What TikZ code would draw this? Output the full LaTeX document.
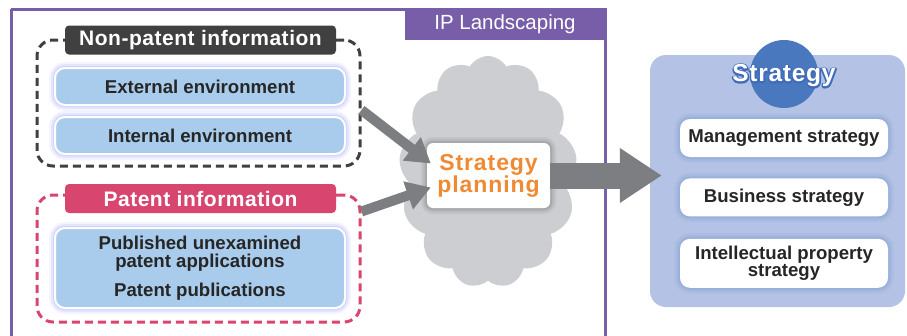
\documentclass[tikz,border=0pt]{standalone}
\usepackage{fontspec}
\setmainfont{Liberation Sans}
\usetikzlibrary{positioning}
\usetikzlibrary{arrows.meta}
\usetikzlibrary{shapes.symbols}
\definecolor{ipurple}{RGB}{120,94,168}
\definecolor{darklabel}{RGB}{64,64,64}
\definecolor{patpink}{RGB}{216,69,111}
\definecolor{boxblue}{RGB}{169,204,236}
\definecolor{cloudgray}{RGB}{205,206,209}
\definecolor{arrowgray}{RGB}{125,126,130}
\definecolor{planorange}{RGB}{240,138,50}
\definecolor{panelblue}{RGB}{180,195,229}
\definecolor{circblue}{RGB}{74,120,191}
% white letters over a blue stroked copy
\newcommand{\outlined}[1]{\rlap{\special{pdf:literal direct 1 Tr 3 w 1 j 0.25 0.42 0.72 RG}#1\special{pdf:literal direct 0 Tr}}#1}

\begin{document}
\begin{tikzpicture}[
            x = 1pt, y = -1pt, % pixel grid, y down
            font = \bfseries\fontsize{18.6}{18.6}\selectfont,
            text = black!85,
            glow/.style = {
                preaction = {draw = #1, line width = 12pt, opacity = 0.06},
                preaction = {draw = #1, line width = 8pt, opacity = 0.08},
                preaction = {draw = #1, line width = 4pt, opacity = 0.12}
            }
        ]

        \tikzstyle{infobox}=[
            fill = boxblue,
            draw = white,
            line width = 2pt,
            rounded corners = 10pt,
            minimum width = 290pt,
            minimum height = 37pt,
            align = center,
            glow = blue!70!boxblue
        ]
        \tikzstyle{stratbox}=[
            fill = white,
            rounded corners = 10pt,
            minimum width = 208pt,
            minimum height = 38pt,
            align = center,
            glow = circblue
        ]
        \tikzstyle{group}=[
            line width = 3pt,
            dash pattern = on 8pt off 5pt,
            rounded corners = 16pt,
            minimum width = 323pt,
            minimum height = 126pt
        ]
        \tikzstyle{grouplabel}=[
            text = white,
            rounded corners = 4pt,
            minimum width = 271pt,
            minimum height = 29pt,
            inner sep = 0pt,
            font = \bfseries\fontsize{21}{21}\selectfont\addfontfeatures{LetterSpace=2.5}
        ]
        \tikzstyle{fatarrow}=[
            -{Triangle[length=24pt, width=28pt]},
            draw = arrowgray,
            line width = 10pt
        ]

        \useasboundingbox (0,0) rectangle (907,335);
        \clip (0,0) rectangle (907,335);

        % IP landscaping frame
        \draw[ipurple, line width = 3pt] (11,9) -- (605,9) -- (605,345) (11,9) -- (11,345);
        \node[fill = ipurple, text = white, minimum width = 201pt, minimum height = 32pt,
              font = \fontsize{20.5}{20.5}\selectfont] (IPL) at (505,24) {IP Landscaping};

        % non-patent information
        \node[group, draw = darklabel] (NP) at (198.5,103) {};
        \node[grouplabel, fill = darklabel] (NPL) at (200.5,40) {Non-patent information};
        \node[infobox] (EXT) at (200,86.5) {External environment};
        \node[infobox] (INT) [below = 10pt of EXT] {Internal environment};

        % patent information
        \node[group, draw = patpink, minimum height = 127pt] (PT) at (198.5,258.5) {};
        \node[grouplabel, fill = patpink] (PTL) at (200.5,198.5) {Patent information};
        \node[infobox, minimum height = 80pt] (PUB) at (200,268)
            {Published unexamined\\patent applications\\[10pt]Patent publications};

        % strategy planning
        \node[cloud, cloud puffs = 13, cloud puff arc = 120, aspect = 0.75,
              minimum width = 178pt, minimum height = 232pt, fill = cloudgray] (CL) at (488,172) {};
        \node[fill = white, rounded corners = 6pt, minimum width = 123pt, minimum height = 65pt,
              align = center, text = planorange,
              font = \bfseries\fontsize{23}{22}\selectfont\addfontfeatures{LetterSpace=4},
              glow = black!80]
              (PLAN) at (488.5,175.5) {Strategy\\planning};

        % strategy
        \node[fill = panelblue, rounded corners = 16pt, minimum width = 255pt,
              minimum height = 252pt] (PANEL) at (777.5,181) {};
        \node[circle, fill = circblue, minimum size = 68pt] (CIRC) at (784,74) {};
        \node[text = white, font = \bfseries\fontsize{24.5}{24.5}\selectfont\addfontfeatures{LetterSpace=3}]
              (STR) at (784,76) {\outlined{Strategy}};
        \node[stratbox] (MGMT) at (784,138) {Management strategy};
        \node[stratbox] (BIZ) [below = 21pt of MGMT] {Business strategy};
        \node[stratbox, minimum height = 49pt, font = \bfseries\fontsize{18.6}{17}\selectfont]
              (IPS) [below = 22pt of BIZ] {Intellectual property\\strategy};

        % flows
        \draw[fatarrow] ([yshift=-7pt]NP.east) -- ([xshift=4pt, yshift=12pt]PLAN.west);
        \draw[fatarrow] ([yshift=-18pt]PT.north east) -- ([xshift=4pt, yshift=-12pt]PLAN.west);
        \draw[-{Triangle[length=42pt, width=52pt]}, draw = arrowgray, line width = 26pt]
            (PLAN.east) -- ([xshift=12pt]PLAN.east -| PANEL.west);

\end{tikzpicture}
\end{document}
